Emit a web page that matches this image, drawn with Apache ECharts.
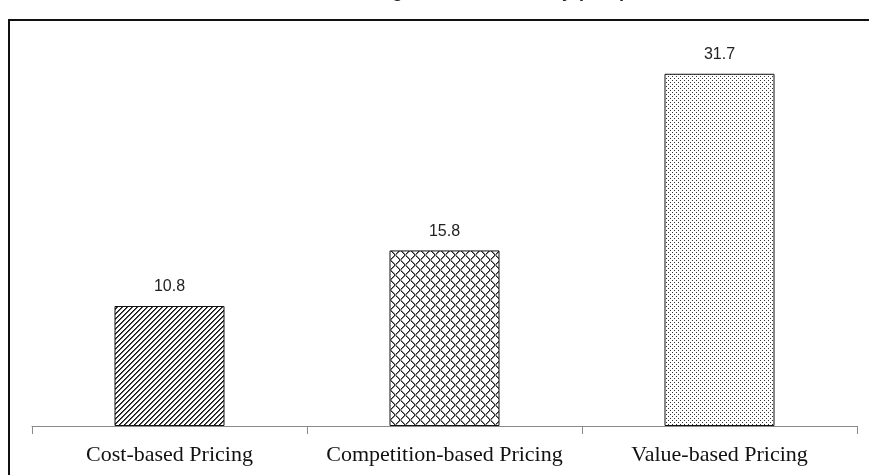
<!DOCTYPE html>
<html>
<head>
<meta charset="utf-8">
<script src="https://cdn.jsdelivr.net/npm/echarts@6/dist/echarts.min.js"></script>
<style>
  html, body { margin: 0; padding: 0; background: #fff; }
  #chart { width: 869px; height: 475px; }
</style>
</head>
<body>
<div id="chart"></div>
<script>
// Pricing approaches and their scores
var categories = ['Cost-based Pricing', 'Competition-based Pricing', 'Value-based Pricing'];
var scores = [10.8, 15.8, 31.7];
var titleText = 'Mean Score of Pricing Methods Efficiency (in %)';

// Small repeating tiles used as monochrome fill patterns
function makeTile(size, paint) {
  var c = document.createElement('canvas');
  c.width = size; c.height = size;
  var ctx = c.getContext('2d');
  ctx.fillStyle = '#fff';
  ctx.fillRect(0, 0, size, size);
  paint(ctx, size);
  return c;
}

// forward diagonal hatching
var hatchTile = makeTile(5, function (ctx, n) {
  for (var x = 0; x < n; x++) {
    for (var y = 0; y < n; y++) {
      var k = (x + y) % n;
      if (k === 3) { ctx.fillStyle = '#111'; ctx.fillRect(x, y, 1, 1); }
      else if (k === 4) { ctx.fillStyle = '#555'; ctx.fillRect(x, y, 1, 1); }
    }
  }
});

// diamond cross-hatching
var crossTile = makeTile(10, function (ctx, n) {
  for (var i = 0; i < n; i++) {
    ctx.fillStyle = '#222';
    ctx.fillRect(i, i, 1, 1);
    ctx.fillRect(n - 1 - i, i, 1, 1);
    ctx.fillStyle = '#888';
    ctx.fillRect((i + 1) % n, i, 1, 1);
    ctx.fillRect((n - i) % n, i, 1, 1);
  }
});

// staggered dot screen
var dotTile = makeTile(4, function (ctx) {
  ctx.fillStyle = '#333';
  ctx.fillRect(0, 0, 1, 1);
  ctx.fillRect(2, 2, 1, 1);
});

var fills = [hatchTile, crossTile, dotTile];

var chart = echarts.init(document.getElementById('chart'), null, { renderer: 'canvas' });

chart.setOption({
  backgroundColor: '#fff',
  animation: false,
  graphic: [
    {
      type: 'rect',
      shape: { x: 9, y: 20, width: 900, height: 500 },
      style: { fill: 'none', stroke: '#111', lineWidth: 2 },
      silent: true,
      z: 0
    },
    {
      // title sits above the frame; only its lowest strokes fall inside the view
      type: 'text',
      x: 214,
      y: -17,
      style: {
        text: titleText,
        font: 'bold 18px "Liberation Sans", Arial, sans-serif',
        fill: '#222',
        textAlign: 'left'
      },
      silent: true
    }
  ],
  grid: { left: 32, right: 12, top: 26, bottom: 49, containLabel: false },
  xAxis: {
    type: 'category',
    data: categories,
    axisLine: { show: true, lineStyle: { color: '#8a8a8a', width: 1 } },
    axisTick: { show: true, length: 8, interval: 0, lineStyle: { color: '#8a8a8a' } },
    axisLabel: {
      interval: 0,
      margin: 18,
      color: '#111',
      fontFamily: '"Liberation Serif", "Times New Roman", serif',
      fontSize: 22
    }
  },
  yAxis: {
    type: 'value',
    min: 0,
    max: 36,
    show: false,
    splitLine: { show: false }
  },
  series: [{
    type: 'bar',
    barWidth: '40%',
    data: scores.map(function (v, i) {
      return {
        value: v,
        itemStyle: {
          color: { image: fills[i], repeat: 'repeat' },
          borderColor: '#111',
          borderWidth: 1
        }
      };
    }),
    label: {
      show: true,
      position: 'top',
      distance: 11,
      color: '#222',
      fontFamily: '"Liberation Sans", Arial, sans-serif',
      fontSize: 16
    }
  }]
});
</script>
</body>
</html>
